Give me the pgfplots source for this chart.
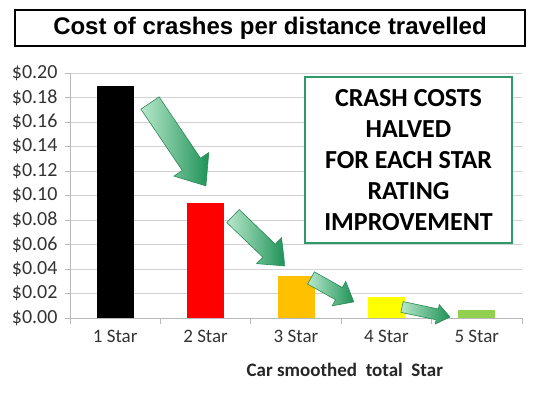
\documentclass[border=0pt]{standalone}
\usepackage{pgfplots}
\pgfplotsset{compat=1.18}
\usepackage{fontspec}
\setmainfont{Carlito}
\newfontfamily\arial{Liberation Sans}
\definecolor{arrowlight}{HTML}{B8E8CB}
\definecolor{arrowdark}{HTML}{1E9257}
\definecolor{arrowedge}{HTML}{2A8A55}
\definecolor{boxgreen}{HTML}{2E9A6A}
\definecolor{barorange}{HTML}{FFC000}
\definecolor{baryellow}{HTML}{FFFF00}
\definecolor{bargreen}{HTML}{92D050}
\newcommand{\garrow}[7]{%
  \begin{scope}[x=1pt, y=1pt, shift={(#1pt,#2pt)}, rotate=#3]
    \draw[draw=arrowedge, line width=0.6pt, left color=arrowlight, right color=arrowdark]
      (0,-#5) -- ({#4-#7},-#5) -- ({#4-#7},-#6) -- (#4,0)
      -- ({#4-#7},#6) -- ({#4-#7},#5) -- (0,#5) -- cycle;
  \end{scope}}
\begin{document}
\begin{tikzpicture}
\path[use as bounding box] (0pt,0pt) rectangle (541pt,392pt);
\begin{axis}[
  at={(70pt,74pt)}, anchor=south west,
  width=452pt, height=245pt, scale only axis,
  xmin=-0.5, xmax=4.5, ymin=0, ymax=0.2,
  axis lines=left, axis line style={-, draw=gray!55, line width=0.8pt},
  ytick={0,0.02,0.04,0.06,0.08,0.1,0.12,0.14,0.16,0.18,0.2},
  ymajorgrids, grid style={draw=gray!35, line width=0.8pt},
  yticklabel={\$\pgfmathprintnumber[fixed,fixed zerofill,precision=2]{\tick}},
  /pgf/number format/assume math mode=true,
  xtick={0,1,2,3,4},
  xticklabels={1 Star,2 Star,3 Star,4 Star,5 Star},
  minor xtick={-0.5,0.5,1.5,2.5,3.5,4.5},
  major x tick style={draw=none},
  minor tick style={draw=gray!55, line width=0.8pt},
  major tick style={draw=gray!55, line width=0.8pt},
  tick align=outside,
  major tick length=5pt, minor tick length=6pt,
  ticklabel style={font=\fontsize{19}{22}\selectfont, text=black!80},
  yticklabel style={xshift=-4pt, font=\fontsize{20}{22}\selectfont},
  xticklabel style={yshift=-4pt},
  xlabel={Car smoothed\ \ total\ \ Star},
  xlabel style={at={(axis description cs:0.608,0)}, anchor=center, yshift=-52pt,
    font=\fontsize{19}{22}\selectfont\bfseries, text=black!85},
  ybar, bar width=37pt, bar shift=0pt,
  clip=false,
]
\addplot[fill=black, draw=none] coordinates {(0,0.189)};
\addplot[fill=red, draw=none] coordinates {(1,0.094)};
\addplot[fill=barorange, draw=none] coordinates {(2,0.0345)};
\addplot[fill=baryellow, draw=none] coordinates {(3,0.0175)};
\addplot[fill=bargreen, draw=none] coordinates {(4,0.0066)};
\end{axis}
% title box
\draw[line width=1.6pt, fill=white] (15pt,346pt) rectangle (525pt,382pt);
\node[font=\arial\bfseries\fontsize{24}{28}\selectfont] at (270pt,364pt) {Cost of crashes per distance travelled};
% annotation box
\draw[draw=boxgreen, line width=1.5pt, fill=white] (305pt,149pt) rectangle (512pt,315pt);
\node[align=center, font=\bfseries\fontsize{26}{31}\selectfont] at (408.5pt,232pt)
  {CRASH COSTS\\HALVED\\FOR EACH STAR\\RATING\\IMPROVEMENT};
% arrows
\garrow{150}{289}{-56}{100}{11}{21}{26}
\garrow{233}{176}{-43.9}{72}{9}{18}{22}
\garrow{311}{114}{-29.2}{49}{7}{14}{17}
\garrow{402}{85}{-11.8}{49}{5.5}{10}{13}
\end{tikzpicture}
\end{document}
